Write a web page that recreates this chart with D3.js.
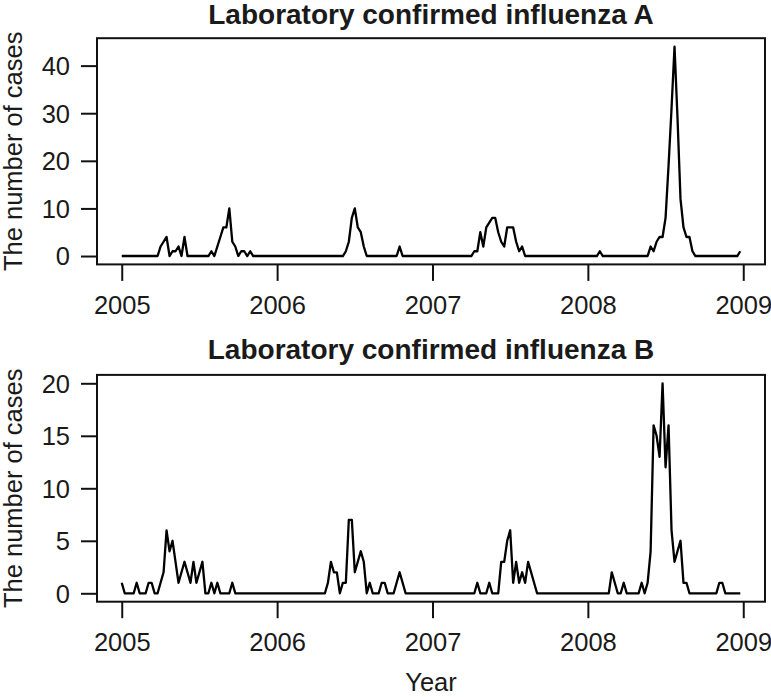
<!DOCTYPE html>
<html>
<head>
<meta charset="utf-8">
<script src="https://cdn.jsdelivr.net/npm/d3@7"></script>
<style>
  html, body { margin: 0; padding: 0; background: #fff; }
  svg { display: block; }
  text { font-family: "Liberation Sans", Arial, sans-serif; fill: #1a1a1a; }
</style>
</head>
<body>
<svg id="chart" width="771" height="697"></svg>
<script>
// ---- data (weekly counts, frequency 52, starting 2005) ----
const startYear = 2005;
const weeksPerYear = 52;
const yearTicks = [2005, 2006, 2007, 2008, 2009];
const ticksA = [0, 10, 20, 30, 40];
const ticksB = [0, 5, 10, 15, 20];
const titleA = "Laboratory confirmed influenza A";
const titleB = "Laboratory confirmed influenza B";
const yLabel = "The number of cases";
const xLabel = "Year";

const casesA = [
  0,0,0,0,0,0,0,0,0,0,0,0,0,
  2,3,4,0,1,1,2,0,4,0,
  0,0,0,0,0,0,0,
  1,0,2,4,6,6,10,3,2,0,1,1,0,1,0,
  0,0,0,0,0,0,0,0,0,0,0,0,0,0,0,0,0,0,0,0,0,0,0,0,0,0,0,0,0,0,
  1,3,8,10,6,5,2,0,
  0,0,0,0,0,0,0,0,0,0,
  2,
  0,0,0,0,0,0,0,0,0,0,0,0,0,0,0,0,0,0,0,0,0,0,0,0,
  1,1,5,2,6,7,8,8,5,3,2,6,6,6,3,1,2,
  0,0,0,0,0,0,0,0,0,0,0,0,0,0,0,0,0,0,0,0,0,0,0,0,0,
  1,
  0,0,0,0,0,0,0,0,0,0,0,0,0,0,0,0,
  2,1,3,4,4,8,19,31,44,29,12,6,4,4,1,
  0,0,0,0,0,0,0,0,0,0,0,0,0,0,0,
  1
];

const casesB = [
  1,0,0,0,0,1,0,0,0,1,1,0,0,1,
  2,6,4,5,3,1,2,3,2,1,3,1,2,3,0,0,1,0,1,0,0,0,0,1,0,
  0,0,0,0,0,0,0,0,0,0,0,0,0,0,0,0,0,0,0,0,0,0,0,0,0,0,0,0,0,0,
  1,3,2,2,0,1,1,7,7,2,3,4,3,0,1,0,0,0,1,1,0,0,0,1,2,1,0,
  0,0,0,0,0,0,0,0,0,0,0,0,0,0,0,0,0,0,0,0,0,0,0,
  1,0,0,0,1,0,0,0,3,3,5,6,1,3,1,2,1,3,2,1,0,
  0,0,0,0,0,0,0,0,0,0,0,0,0,0,0,0,0,0,0,0,0,0,0,0,
  2,1,0,0,1,0,0,0,0,0,1,0,1,4,16,15,13,20,12,16,6,3,4,5,1,1,0,
  0,0,0,0,0,0,0,0,0,
  1,1,0,0,0,0,0,0
];

// ---- layout ----
const svg = d3.select("#chart");
const FONT = 25.5;
const boxLeft = 97, boxRight = 765;

function drawPanel(values, yTicks, title, top, bottom, titleBaseline) {
  const t0 = startYear, t1 = startYear + (values.length - 1) / weeksPerYear;
  const xPad = 0.04 * (t1 - t0);
  const x = d3.scaleLinear().domain([t0 - xPad, t1 + xPad]).range([boxLeft, boxRight]);
  const vMax = d3.max(values), vMin = 0;
  const yPad = 0.04 * (vMax - vMin);
  const y = d3.scaleLinear().domain([vMin - yPad, vMax + yPad]).range([bottom, top]);

  const g = svg.append("g");

  // y axis
  const ya = g.append("g").attr("transform", `translate(${boxLeft},0)`)
    .call(d3.axisLeft(y).tickValues(yTicks).tickSizeInner(16).tickSizeOuter(0).tickPadding(11));
  ya.select(".domain").remove();
  ya.selectAll("line").attr("stroke", "#111").attr("stroke-width", 2);
  ya.selectAll("text").style("font-size", FONT + "px").attr("fill", "#1a1a1a").attr("dy", "0.35em");

  // x axis
  const xa = g.append("g").attr("transform", `translate(0,${bottom})`)
    .call(d3.axisBottom(x).tickValues(yearTicks).tickFormat(d3.format("d"))
      .tickSizeInner(16.5).tickSizeOuter(0).tickPadding(15));
  xa.select(".domain").remove();
  xa.selectAll("line").attr("stroke", "#111").attr("stroke-width", 2);
  xa.selectAll("text").style("font-size", FONT + "px").attr("fill", "#1a1a1a");

  // box
  g.append("rect")
    .attr("x", boxLeft).attr("y", top)
    .attr("width", boxRight - boxLeft).attr("height", bottom - top)
    .attr("fill", "none").attr("stroke", "#111").attr("stroke-width", 2);

  // line
  const line = d3.line()
    .x((d, i) => x(startYear + i / weeksPerYear))
    .y(d => y(d));
  g.append("path").datum(values)
    .attr("d", line)
    .attr("fill", "none").attr("stroke", "#000")
    .attr("stroke-width", 2.3).attr("stroke-linejoin", "round");

  // title
  g.append("text")
    .attr("x", (boxLeft + boxRight) / 2).attr("y", titleBaseline)
    .attr("text-anchor", "middle")
    .style("font-size", "28px").style("font-weight", "bold")
    .text(title);

  // y label
  g.append("text")
    .attr("transform", `translate(22,${(top + bottom) / 2}) rotate(-90)`)
    .attr("text-anchor", "middle")
    .style("font-size", FONT + "px")
    .text(yLabel);
}

drawPanel(casesA, ticksA, titleA, 38.2, 264.4, 24);
drawPanel(casesB, ticksB, titleB, 374.9, 601.7, 359);

svg.append("text")
  .attr("x", (boxLeft + boxRight) / 2).attr("y", 691)
  .attr("text-anchor", "middle")
  .style("font-size", FONT + "px")
  .text(xLabel);
</script>
</body>
</html>
